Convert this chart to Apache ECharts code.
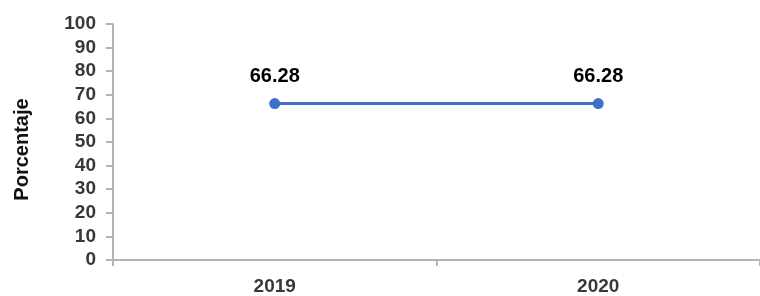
<!DOCTYPE html>
<html lang="es">
<head>
<meta charset="UTF-8">
<title>Porcentaje</title>
<style>
  html, body { margin: 0; padding: 0; background: #fff; }
  #chart { width: 760px; height: 296px; }
</style>
</head>
<body>
<div id="chart"></div>
<script src="https://cdn.jsdelivr.net/npm/echarts@6/dist/echarts.min.js"></script>
<script>
var years = ['2019', '2020'];
var porcentaje = [66.28, 66.28];
var yMin = 0, yMax = 100, yStep = 10;

var chart = echarts.init(document.getElementById('chart'));
var font = 'Liberation Sans, Arial, sans-serif';

chart.setOption({
  animation: false,
  grid: { left: 113, right: -3, top: 24, bottom: 35 },
  xAxis: {
    type: 'category',
    data: years,
    boundaryGap: true,
    axisLine: { lineStyle: { color: '#b4b4b4', width: 2 } },
    axisTick: { show: true, length: 6, lineStyle: { color: '#b4b4b4', width: 2 } },
    axisLabel: { color: '#383838', fontFamily: font, fontSize: 19, fontWeight: 'bold', margin: 17 }
  },
  yAxis: {
    type: 'value',
    min: yMin, max: yMax, interval: yStep,
    name: 'Porcentaje',
    nameLocation: 'middle',
    nameGap: 81,
    nameTextStyle: { color: '#111', fontFamily: font, fontSize: 20, fontWeight: 'bold', padding: [0, 0, 0, -15] },
    splitLine: { show: false },
    axisLine: { show: true, lineStyle: { color: '#b4b4b4', width: 2 } },
    axisTick: { show: true, length: 7, lineStyle: { color: '#b4b4b4', width: 2 } },
    axisLabel: { color: '#383838', fontFamily: font, fontSize: 19, fontWeight: 'bold', margin: 17 }
  },
  series: [{
    type: 'line',
    data: porcentaje,
    symbol: 'circle',
    symbolSize: 11,
    lineStyle: { color: '#3d70c8', width: 3 },
    itemStyle: { color: '#3d70c8' },
    label: {
      show: true,
      position: 'top',
      distance: 12,
      color: '#000',
      fontFamily: font,
      fontSize: 20,
      fontWeight: 'bold',
      formatter: function (p) { return p.value.toFixed(2); }
    }
  }]
});
</script>
</body>
</html>
